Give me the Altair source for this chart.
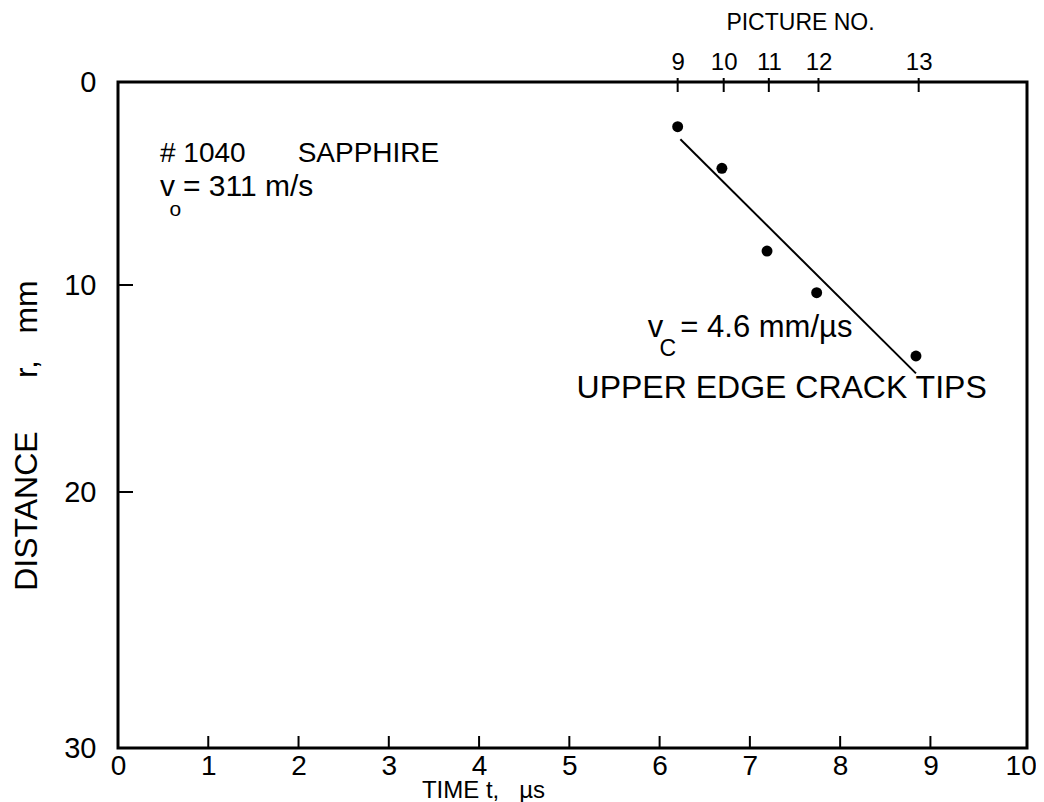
import altair as alt
import pandas as pd

# ---- data ----
t_points = [6.20, 6.69, 7.19, 7.74, 8.84]        # time, µs
r_points = [2.20, 4.25, 8.33, 10.37, 13.43]      # distance, mm
fit_t = [6.23, 8.84]
fit_r = [2.82, 14.27]
pic_t = [6.20, 6.71, 7.21, 7.76, 8.87]           # picture times
pic_no = ["9", "10", "11", "12", "13"]
x_ticks = [0, 1, 2, 3, 4, 5, 6, 7, 8, 9, 10]
x_inner_ticks = [1, 2, 3, 4, 5, 6, 7, 8, 9]
y_ticks = [0, 10, 20, 30]
y_inner_ticks = [10, 20]

ann_text = ["# 1040", "SAPPHIRE", "v", "o", "= 311 m/s",
            "v", "C", "= 4.6 mm/\u00b5s", "UPPER EDGE CRACK TIPS"]
ann_t = [0.465, 1.99, 0.465, 0.57, 0.72, 5.87, 6.0, 6.23, 5.08]
ann_r = [3.94, 3.94, 5.6, 6.6, 5.6, 12.5, 13.45, 12.5, 15.45]
ann_fs = [28, 28, 30, 21, 30, 31, 23, 31, 32]

FONT = "Liberation Sans"
W, H = 909, 666

pts = pd.DataFrame({"t": t_points, "r": r_points})
fit = pd.DataFrame({"t": fit_t, "r": fit_r})
pic = pd.DataFrame({"pt": pic_t, "no": pic_no})
xt = pd.DataFrame({"t": x_inner_ticks})
yt = pd.DataFrame({"r": y_inner_ticks})
ann = pd.DataFrame({"t": ann_t, "r": ann_r, "txt": ann_text, "fs": ann_fs})

xscale = alt.Scale(domain=[0, 10.07], range=[0, W], nice=False, zero=False)
yscale = alt.Scale(domain=[0, 10, 20, 30], range=[0, 203, 410, H], nice=False, zero=False)

label_map = " : ".join(
    f"abs(datum.value - {v}) < 0.01 ? '{n}'" for v, n in zip(pic_t, pic_no)
) + " : ''"

NB = "\u00a0"

points = alt.Chart(pts).mark_circle(size=120, color="black", opacity=1).encode(
    x=alt.X("t:Q", scale=xscale,
            axis=alt.Axis(values=x_ticks, tickSize=0, domain=False, grid=False,
                          labelFontSize=28, labelFont=FONT, labelColor="black",
                          labelPadding=4, labelFlush=False,
                          title=f"TIME t,{NB}{NB}{NB}\u00b5s", titleFont=FONT,
                          titleFontSize=24, titleFontWeight="normal",
                          titleColor="black", titleX=365, titleY=49,
                          titleBaseline="alphabetic", titleAlign="center")),
    y=alt.Y("r:Q", scale=yscale,
            axis=alt.Axis(values=y_ticks, tickSize=0, domain=False, grid=False,
                          labelFontSize=29, labelFont=FONT, labelColor="black",
                          labelPadding=22, labelFlush=False,
                          title=f"DISTANCE{NB*6}r,{NB*3}mm", titleFont=FONT,
                          titleFontSize=32, titleFontWeight="normal",
                          titleColor="black", titleX=-82, titleY=353,
                          titleBaseline="alphabetic", titleAlign="center",
                          titleAngle=270)),
)

line = alt.Chart(fit).mark_line(color="black", strokeWidth=2).encode(
    x=alt.X("t:Q", scale=xscale, axis=None),
    y=alt.Y("r:Q", scale=yscale, axis=None),
)

top_ticks = alt.Chart(pic).mark_rule(color="black", strokeWidth=2).encode(
    x=alt.X("pt:Q", scale=xscale,
            axis=alt.Axis(orient="top", values=pic_t, labelExpr=label_map,
                          tickSize=0, domain=False, grid=False,
                          labelFontSize=24, labelFont=FONT, labelColor="black",
                          labelPadding=8, labelFlush=False,
                          title="PICTURE NO.", titleFont=FONT, titleFontSize=23,
                          titleFontWeight="normal", titleColor="black",
                          titleX=682, titleY=-53, titleBaseline="alphabetic",
                          titleAlign="center")),
    y=alt.value(-4),
    y2=alt.value(10),
)

bottom_ticks = alt.Chart(xt).mark_rule(color="black", strokeWidth=2).encode(
    x=alt.X("t:Q", scale=xscale, axis=None),
    y=alt.value(H),
    y2=alt.value(H - 12),
)

left_ticks = alt.Chart(yt).mark_rule(color="black", strokeWidth=2).encode(
    y=alt.Y("r:Q", scale=yscale, axis=None),
    x=alt.value(0),
    x2=alt.value(15),
)

texts = alt.Chart(ann).mark_text(align="left", baseline="alphabetic",
                                 font=FONT, color="black").encode(
    x=alt.X("t:Q", scale=xscale, axis=None),
    y=alt.Y("r:Q", scale=yscale, axis=None),
    text="txt:N",
    size=alt.Size("fs:Q", scale=None, legend=None),
)

chart = alt.layer(points, line, top_ticks, bottom_ticks, left_ticks, texts).resolve_axis(
    x="independent", y="independent"
).properties(
    width=W, height=H,
    autosize=alt.AutoSizeParams(type="none"),
    padding={"left": 110, "top": 74, "right": 9, "bottom": 54},
    background="white",
).configure_view(
    stroke="black", strokeWidth=3
)

chart.save("out.html", embed_options={"renderer": "svg", "actions": False})
